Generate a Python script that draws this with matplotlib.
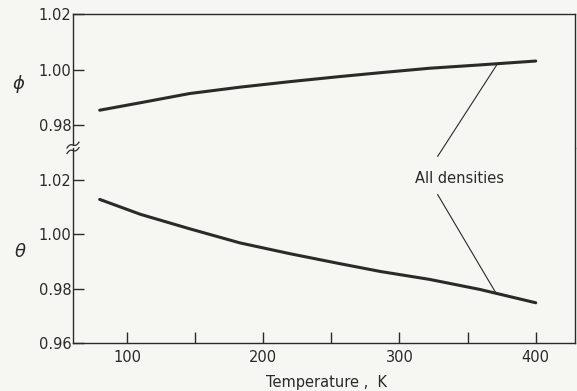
import numpy as np
import matplotlib
matplotlib.use("Agg")
import matplotlib.pyplot as plt

# values
temp = [80, 110, 146, 183, 220, 256, 286, 322, 359, 400]
phi = [0.9854, 0.9881, 0.9914, 0.9937, 0.9957, 0.9975, 0.9989, 1.0005, 1.0017, 1.0031]
theta = [1.0129, 1.0074, 1.0021, 0.9969, 0.9929, 0.9893, 0.9864, 0.9835, 0.9798, 0.9749]

xticks_major = [100, 200, 300, 400]
xticks_minor = [150, 250, 350]
phi_ticks = [0.98, 1.00, 1.02]
theta_ticks = [0.96, 0.98, 1.00, 1.02]

bg = '#f6f6f2'
ink = '#2a2a2a'
plt.rcParams['font.family'] = ['DejaVu Sans']
plt.rcParams['font.size'] = 10.5

fig = plt.figure(figsize=(5.77, 3.91), dpi=100, facecolor=bg)
left, right, bottom, top, brk = 0.1265, 0.9965, 0.122, 0.964, 0.6215
ax_up = fig.add_axes([left, brk, right - left, top - brk], facecolor=bg)
ax_lo = fig.add_axes([left, bottom, right - left, brk - bottom], facecolor=bg, sharex=ax_up)

ax_up.plot(temp, phi, color=ink, lw=2.2, solid_capstyle='round', solid_joinstyle='round')
ax_lo.plot(temp, theta, color=ink, lw=2.2, solid_capstyle='round', solid_joinstyle='round')

ax_up.set_xlim(60.4, 428.8)
ax_up.set_ylim(0.9718, 1.02)
ax_lo.set_ylim(0.96, 1.0318)

for ax in (ax_up, ax_lo):
    for s in ax.spines.values():
        s.set_color(ink)
        s.set_linewidth(1.0)
    ax.tick_params(direction='in', length=8, width=1.0, colors=ink, labelsize=10.5, pad=1)
ax_up.spines['bottom'].set_visible(False)
ax_lo.spines['top'].set_visible(False)

ax_up.set_yticks(phi_ticks)
ax_up.set_yticklabels(['0.98', '1.00', '1.02'])
ax_lo.set_yticks(theta_ticks)
ax_lo.set_yticklabels(['0.96', '0.98', '1.00', '1.02'])
ax_up.tick_params(axis='x', bottom=False, labelbottom=False)
ax_lo.set_xticks(xticks_major)
ax_lo.set_xticks(xticks_minor, minor=True)
ax_lo.tick_params(axis='x', which='minor', direction='in', length=8, width=1.0, colors=ink)
ax_lo.tick_params(axis='x', pad=5)

ax_lo.set_xlabel('Temperature ,  K', fontsize=10.5, color=ink)
ax_lo.xaxis.set_label_coords(0.505, -0.16)

fig.text(0.032, 0.785, r'$\phi$', fontsize=13, color=ink, ha='center', va='center')
fig.text(0.035, 0.355, r'$\theta$', fontsize=13, color=ink, ha='center', va='center')

# break mark on the left spine
ax_lo.plot([0, 0], [0.985, 1.0], transform=ax_lo.transAxes, color=bg, lw=3, clip_on=False)
s = np.linspace(0, 1, 30)
for dy in (0.0, 0.028):
    xs = -0.012 + 0.024 * s
    ys = 0.972 + dy + 0.03 * s + 0.008 * np.sin(2 * np.pi * s)
    ax_lo.plot(xs, ys, transform=ax_lo.transAxes, color=ink, lw=0.9, clip_on=False)

# annotation
ax_lo.text(344, 1.0205, 'All densities', fontsize=10.5, color=ink, ha='center', va='center')
ax_lo.annotate('', xy=(371.5, 1.0018), xycoords=ax_up.transData,
               xytext=(328, 1.0287), textcoords='data',
               arrowprops=dict(arrowstyle='-', color=ink, lw=0.8, shrinkA=0, shrinkB=0))
ax_lo.annotate('', xy=(371, 0.9783), xytext=(328, 1.0147),
               arrowprops=dict(arrowstyle='-', color=ink, lw=0.8, shrinkA=0, shrinkB=0))

fig.savefig('out.png', dpi=100, facecolor=bg)
